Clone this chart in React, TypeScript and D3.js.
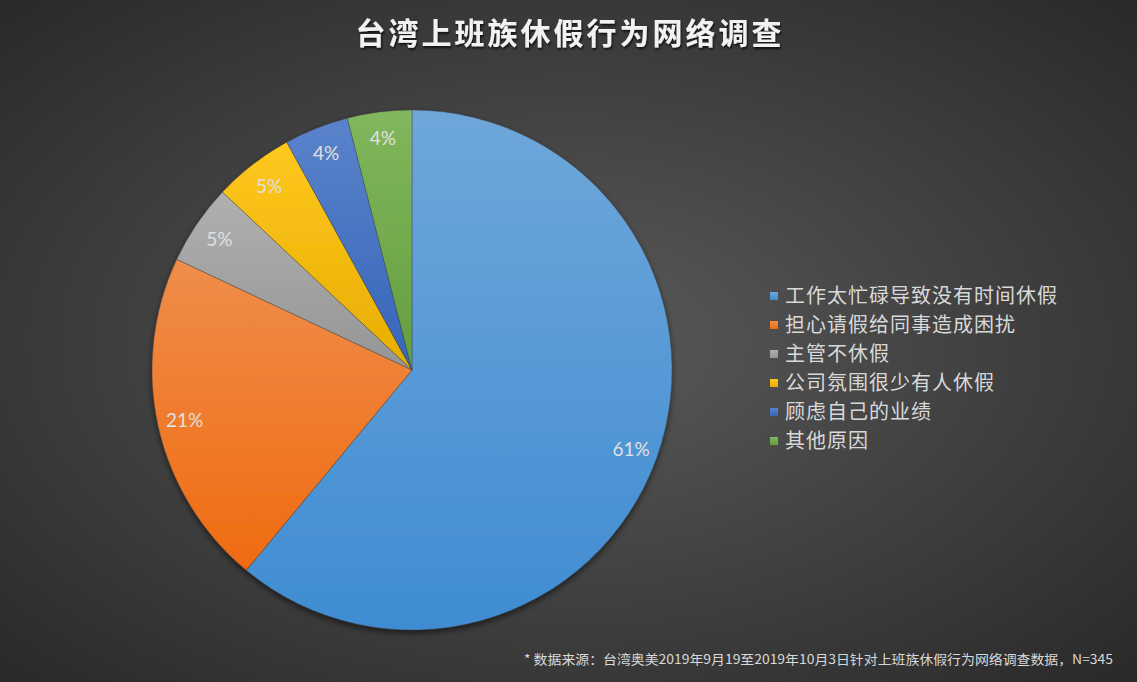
import React, { useEffect, useRef } from 'react'
import * as d3 from 'd3'

const categories = [
  '工作太忙碌导致没有时间休假',
  '担心请假给同事造成困扰',
  '主管不休假',
  '公司氛围很少有人休假',
  '顾虑自己的业绩',
  '其他原因'
]
const shares = [61, 21, 5, 5, 4, 4]
const colors = ['#5B9BD5', '#ED7D31', '#A5A5A5', '#FFC000', '#4472C4', '#70AD47']
const title = '台湾上班族休假行为网络调查'
const footnote = '* 数据来源：台湾奥美2019年9月19至2019年10月3日针对上班族休假行为网络调查数据，N=345'

type Row = { name: string; value: number; color: string }

const App: React.FC = () => {
  const ref = useRef<SVGSVGElement | null>(null)

  useEffect(() => {
    document.body.style.margin = '0'
    if (!ref.current) return

    const width = 1137
    const height = 682
    const cx = 412
    const cy = 370
    const radius = 260

    const svg = d3.select(ref.current)
    svg.attr('viewBox', `0 0 ${width} ${height}`)
    svg.selectAll('*').remove()

    const rows: Row[] = categories.map((name, i) => ({ name, value: shares[i], color: colors[i] }))

    const defs = svg.append('defs')
    const bg = defs
      .append('radialGradient')
      .attr('id', 'bg')
      .attr('cx', '50%')
      .attr('cy', '50%')
      .attr('r', '75%')
    bg.append('stop').attr('offset', '0%').attr('stop-color', '#5a5a5a')
    bg.append('stop').attr('offset', '100%').attr('stop-color', '#262626')

    rows.forEach((row, i) => {
      const g = defs
        .append('linearGradient')
        .attr('id', `slice${i}`)
        .attr('x1', 0)
        .attr('y1', 0)
        .attr('x2', 0)
        .attr('y2', 1)
      const top = d3.interpolateRgb(row.color, '#ffffff')(0.12)
      const hsl = d3.hsl(row.color)
      hsl.l *= 0.9
      hsl.s = Math.min(1, hsl.s * 1.05)
      g.append('stop').attr('offset', '0%').attr('stop-color', top)
      g.append('stop').attr('offset', '100%').attr('stop-color', hsl.formatHex())
    })

    const shadow = defs
      .append('filter')
      .attr('id', 'shadow')
      .attr('x', '-10%')
      .attr('y', '-10%')
      .attr('width', '120%')
      .attr('height', '120%')
    shadow
      .append('feDropShadow')
      .attr('dx', 0)
      .attr('dy', 3)
      .attr('stdDeviation', 3)
      .attr('flood-color', '#000')
      .attr('flood-opacity', 0.55)

    const textShadow = defs.append('filter').attr('id', 'tshadow')
    textShadow
      .append('feDropShadow')
      .attr('dx', 1)
      .attr('dy', 2)
      .attr('stdDeviation', 1.2)
      .attr('flood-color', '#000')
      .attr('flood-opacity', 0.7)

    svg.append('rect').attr('width', width).attr('height', height).attr('fill', 'url(#bg)')

    svg
      .append('text')
      .attr('x', 570)
      .attr('y', 44)
      .attr('text-anchor', 'middle')
      .attr('font-family', '"Noto Sans CJK SC", sans-serif')
      .attr('font-weight', 700)
      .attr('font-size', 30)
      .attr('letter-spacing', 3)
      .attr('fill', '#f2f2f2')
      .attr('filter', 'url(#tshadow)')
      .text(title)

    const pie = d3
      .pie<Row>()
      .sort(null)
      .value((d) => d.value)
    const arcs = pie(rows)
    const arc = d3.arc<d3.PieArcDatum<Row>>().innerRadius(0).outerRadius(radius)
    const labelArc = d3.arc<d3.PieArcDatum<Row>>().innerRadius(233).outerRadius(233)

    const pieG = svg.append('g').attr('transform', `translate(${cx},${cy})`)
    pieG
      .append('g')
      .attr('filter', 'url(#shadow)')
      .selectAll('path')
      .data(arcs)
      .enter()
      .append('path')
      .attr('d', arc)
      .attr('fill', (_, i) => `url(#slice${i})`)
      .attr('stroke', 'rgba(60,60,60,0.6)')
      .attr('stroke-width', 0.6)

    pieG
      .selectAll('text.label')
      .data(arcs)
      .enter()
      .append('text')
      .attr('class', 'label')
      .attr('transform', (d) => {
        const [x, y] = labelArc.centroid(d)
        return `translate(${x},${y})`
      })
      .attr('text-anchor', 'middle')
      .attr('dy', '0.35em')
      .attr('font-family', 'Lato, "Open Sans", sans-serif')
      .attr('font-size', 19)
      .attr('fill', '#e0e0e0')
      .text((d) => `${d.data.value}%`)

    const legend = svg.append('g').attr('transform', 'translate(770,296)')
    const item = legend
      .selectAll('g')
      .data(rows)
      .enter()
      .append('g')
      .attr('transform', (_, i) => `translate(0,${i * 29})`)
    item
      .append('rect')
      .attr('x', 0)
      .attr('y', -4)
      .attr('width', 8)
      .attr('height', 8)
      .attr('fill', (_, i) => `url(#slice${i})`)
    item
      .append('text')
      .attr('x', 15)
      .attr('dy', '0.36em')
      .attr('font-family', '"Noto Sans CJK SC", sans-serif')
      .attr('font-size', 20)
      .attr('letter-spacing', 1)
      .attr('fill', '#d9d9d9')
      .text((d) => d.name)

    svg
      .append('text')
      .attr('x', 524)
      .attr('y', 664)
      .attr('font-family', '"Noto Sans CJK SC", sans-serif')
      .attr('font-size', 13)
      .attr('fill', '#d9d9d9')
      .attr('textLength', 589)
      .attr('lengthAdjust', 'spacingAndGlyphs')
      .text(footnote)
  }, [])

  return <svg ref={ref} width={1137} height={682} style={{ display: 'block' }} />
}

export default App
